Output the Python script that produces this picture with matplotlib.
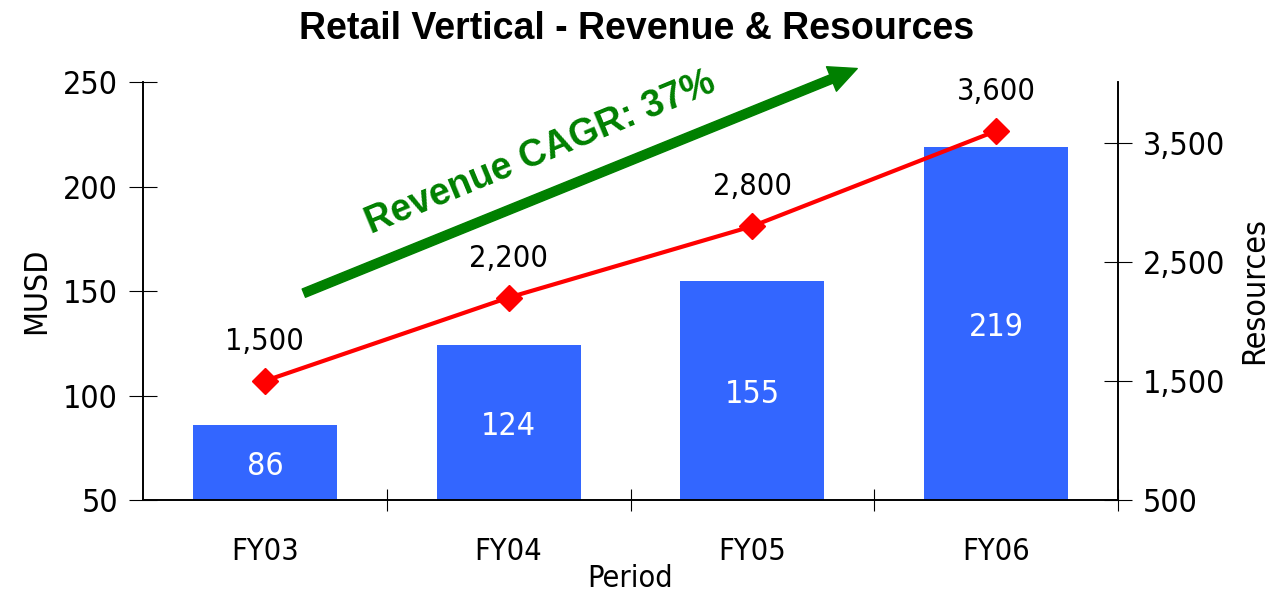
import matplotlib
matplotlib.use("Agg")
import matplotlib.pyplot as plt
from matplotlib.ticker import FuncFormatter

# data
periods = ["FY03", "FY04", "FY05", "FY06"]
revenue = [86, 124, 155, 219]
resources = [1500, 2200, 2800, 3600]
cagr_text = "Revenue CAGR: 37%"

plt.rcParams['font.family'] = ["DejaVu Sans"]
plt.rcParams['font.stretch'] = "condensed"

fig = plt.figure(figsize=(12.74, 5.95), dpi=100)
ax = fig.add_axes([0.1122, 0.1597, 0.7654, 0.7023])
ax2 = ax.twinx()

x = list(range(len(periods)))
ax.bar(x, revenue, width=0.59, color="#3366ff", zorder=2)
for xi, v in zip(x, revenue):
    ax.text(xi, (50 + v) / 2 - 2, str(v), color="white", ha="center", va="center",
            fontsize=23, zorder=3)

ax.set_xlim(-0.5, 3.5)
ax.set_ylim(50, 250)
ax.set_yticks([50, 100, 150, 200, 250])
ax.set_xticks([0.5, 1.5, 2.5, 3.5])
ax.set_xticklabels([])
ax.set_xticks(x, minor=True)
ax.set_xticklabels(periods, minor=True)
ax.tick_params(axis="x", which="minor", length=0, pad=27, labelsize=22)
ax.tick_params(axis="x", which="major", direction="inout", length=16)
ax.tick_params(axis="y", direction="inout", length=20, labelsize=23, pad=8)
ax.set_ylabel("MUSD", fontsize=23, labelpad=8)
ax.set_xlabel("Period", fontsize=22, labelpad=-2)

ax2.plot(x, resources, color="red", lw=3, marker="D", markersize=13, zorder=4)
for xi, v in zip(x, resources):
    ax2.annotate(f"{v:,}", (xi, v), xytext=(0, 18), textcoords="offset points",
                 ha="center", va="bottom", fontsize=22)
ax2.set_ylim(500, 4010)
ax2.set_yticks([500, 1500, 2500, 3500])
ax2.yaxis.set_major_formatter(FuncFormatter(lambda v, p: f"{int(v):,}"))
ax2.tick_params(axis="y", direction="inout", length=20, labelsize=23, pad=8)
ax2.set_ylabel("Resources", fontsize=23, labelpad=10)

for a in (ax, ax2):
    a.spines["top"].set_visible(False)
    for s in a.spines.values():
        s.set_linewidth(1.2)

# growth arrow
ax.annotate("", xy=(2.43, 256.5), xytext=(0.16, 149),
            arrowprops=dict(arrowstyle="simple,tail_width=0.32,head_width=0.95,head_length=1.0",
                            color="#008000", mutation_scale=20, shrinkA=0, shrinkB=0),
            annotation_clip=False, zorder=5)
ax.text(1.13, 216, cagr_text, rotation=22.5, rotation_mode="anchor",
        ha="center", va="center", color="#008000", fontsize=27, fontweight="bold",
        family=["Liberation Sans", "DejaVu Sans"], fontstretch="normal")

fig.text(0.5, 0.952, "Retail Vertical - Revenue & Resources", ha="center", va="center",
         fontsize=27, fontweight="bold", family=["Liberation Sans", "DejaVu Sans"],
         fontstretch="normal")

fig.savefig("out.png", dpi=100)
